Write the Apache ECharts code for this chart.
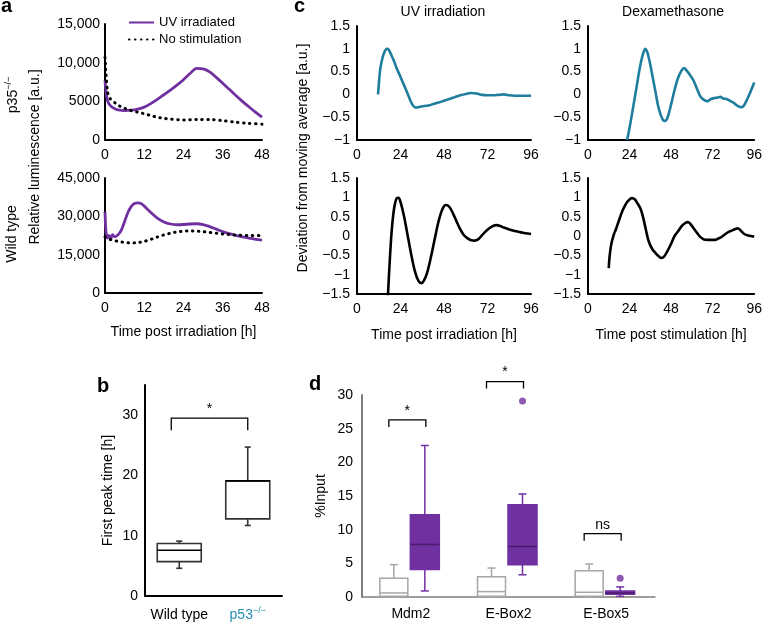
<!DOCTYPE html>
<html>
<head>
<meta charset="utf-8">
<script src="https://cdn.jsdelivr.net/npm/echarts@6/dist/echarts.min.js"></script>
<style>
html, body { margin: 0; padding: 0; background: #fff; }
#main { width: 765px; height: 622px; }
</style>
</head>
<body>
<div id="main"></div>
<script>
// ---- panel a : luminescence traces (time [h], a.u.) ----
var aTopUvT = [0, 0.3, 0.7, 1.2, 2, 3, 4, 6, 8, 10, 12, 14, 16, 18, 20, 22, 24, 26, 28, 30, 32, 34, 36, 38, 40, 42, 44, 46, 48];
var aTopUv = [7700, 6300, 5200, 4700, 4300, 4050, 3900, 3800, 3850, 4000, 4250, 4700, 5250, 5850, 6450, 7100, 7800, 8600, 9250, 9200, 8800, 8100, 7350, 6550, 5750, 5000, 4300, 3600, 2950];
var aTopCtlT = [0, 0.3, 0.8, 1.5, 2.5, 4, 6, 8, 10, 12, 14, 16, 18, 20, 24, 28, 32, 36, 40, 44, 48];
var aTopCtl = [10700, 8600, 6200, 5400, 5000, 4500, 4100, 3800, 3600, 3400, 3150, 2950, 2800, 2700, 2600, 2650, 2650, 2500, 2300, 2150, 2050];
var aBotUvT = [0, 0.3, 0.7, 1.2, 1.7, 2.3, 3, 4, 5, 6, 7, 8, 9, 10, 11, 12, 14, 16, 18, 20, 22, 24, 26, 28, 30, 32, 34, 36, 38, 40, 42, 44, 46, 48];
var aBotUv = [31700, 24000, 21500, 22500, 21000, 22800, 22000, 22800, 24600, 28000, 31500, 33800, 35000, 35300, 35000, 34000, 31500, 29300, 27800, 27000, 26700, 26800, 27000, 27100, 26800, 26000, 25000, 24000, 23200, 22500, 22000, 21500, 21000, 20700];
var aBotCtlT = [0, 1, 2, 4, 6, 8, 10, 12, 14, 16, 18, 20, 22, 24, 26, 28, 30, 32, 34, 36, 38, 40, 44, 48];
var aBotCtl = [22000, 21200, 20800, 20200, 19800, 19600, 19700, 20200, 21000, 21900, 22700, 23400, 23900, 24200, 24300, 24200, 24000, 23700, 23400, 23100, 22900, 22700, 22500, 22500];
var aXTicks = ['0', '12', '24', '36', '48'];
var aTopYTicks = ['0', '5000', '10,000', '15,000'];
var aBotYTicks = ['0', '15,000', '30,000', '45,000'];

// ---- panel c : deviation from moving average ----
var cUvTopT = [11.6, 12.2, 12.8, 13.6, 14.4, 15.5, 16.6, 17.5, 19, 20.5, 22, 23.5, 25, 26.5, 28, 29.5, 31, 32.5, 34, 36, 38, 40, 42, 45, 48, 51, 54, 57, 60, 63, 66, 69, 72, 75, 78, 81, 84, 87, 90, 93, 96];
var cUvTop = [0, 0.3, 0.55, 0.72, 0.85, 0.96, 1.0, 0.98, 0.86, 0.72, 0.56, 0.43, 0.29, 0.15, 0.01, -0.14, -0.25, -0.29, -0.28, -0.26, -0.25, -0.24, -0.21, -0.18, -0.14, -0.1, -0.06, -0.02, 0.01, 0.03, 0.02, -0.01, -0.02, -0.02, -0.01, 0.0, -0.02, -0.03, -0.03, -0.03, -0.03];
var cDexTopT = [22.6, 24, 26, 28, 30, 31.5, 33, 34, 35, 36, 37.5, 39, 40.5, 42, 43.5, 44.5, 46, 48, 50, 52, 54, 55.5, 57, 59, 61, 63, 65, 67, 69, 71, 73, 75, 76.5, 78, 80, 82, 84, 86, 88, 89.5, 91, 93, 94.5, 96];
var cDexTop = [-1, -0.73, -0.3, 0.15, 0.6, 0.85, 1.0, 0.95, 0.82, 0.65, 0.35, 0.05, -0.25, -0.45, -0.57, -0.58, -0.5, -0.22, 0.1, 0.36, 0.52, 0.58, 0.52, 0.42, 0.3, 0.12, -0.05, -0.12, -0.15, -0.1, -0.08, -0.07, -0.05, -0.09, -0.1, -0.14, -0.18, -0.24, -0.28, -0.27, -0.18, -0.02, 0.12, 0.26];
var cUvBotT = [17, 18, 19, 20, 21, 22, 23, 24, 26, 28, 30, 32, 34, 35.5, 37, 39, 41, 43, 45, 47, 49, 51, 53, 55, 57, 59, 61, 63, 65, 67, 69, 71, 73, 75, 77, 79, 81, 84, 87, 90, 93, 96];
var cUvBot = [-1.6, -0.7, 0.05, 0.55, 0.85, 0.98, 0.99, 0.88, 0.5, 0, -0.5, -0.92, -1.17, -1.22, -1.15, -0.9, -0.5, -0.05, 0.38, 0.68, 0.8, 0.75, 0.58, 0.37, 0.17, 0.02, -0.06, -0.11, -0.12, -0.08, 0.02, 0.12, 0.2, 0.26, 0.28, 0.26, 0.22, 0.17, 0.13, 0.1, 0.07, 0.05];
var cDexBotT = [12, 12.4, 13.5, 15, 16.2, 18, 19.8, 21.5, 23, 25.4, 27, 28.5, 30.4, 32, 33.5, 35, 37, 39, 41, 42.4, 44, 46, 48, 50, 52, 54, 56, 57.6, 59, 61, 63, 65, 67, 69, 71, 73.5, 75, 77, 79, 81, 83, 85, 86.5, 88, 90, 92, 94, 96];
var cDexBot = [-0.83, -0.56, -0.2, 0.05, 0.18, 0.42, 0.64, 0.8, 0.9, 0.98, 0.95, 0.85, 0.7, 0.45, 0.15, -0.13, -0.33, -0.44, -0.53, -0.57, -0.53, -0.38, -0.2, 0.0, 0.12, 0.25, 0.33, 0.36, 0.32, 0.2, 0.08, -0.03, -0.09, -0.1, -0.1, -0.1, -0.07, -0.03, 0.04, 0.1, 0.14, 0.18, 0.2, 0.15, 0.06, 0.02, 0.0, -0.02];
var cXTicks = ['0', '24', '48', '72', '96'];
var cTopYTicks = ['\u22121', '\u22120.5', '0', '0.5', '1', '1.5'];
var cBotYTicks = ['\u22121.5', '\u22121', '\u22120.5', '0', '0.5', '1', '1.5'];

// ---- panel b : first peak time, box = [min, q1, median, q3, max] ----
var bCats = ['Wild type', 'p53'];
var bBoxes = [[4.6, 5.7, 7.6, 8.7, 9.1], [11.7, 12.8, 19.1, 19.1, 24.7]];
var bYTicks = ['0', '10', '20', '30'];
var bSig = [[0, 1, 29.5]];
var bSigLabels = ['*'];

// ---- panel d : ChIP %Input ----
var dCats = ['Mdm2', 'E-Box2', 'E-Box5'];
var dControl = [[0, 0.1, 0.6, 2.8, 4.8], [0, 0.1, 0.8, 3.0, 4.3], [0, 0.1, 0.7, 3.9, 4.9]];
var dUv = [[0.9, 4.1, 7.8, 12.2, 22.5], [3.3, 4.8, 7.5, 13.7, 15.3], [0.1, 0.4, 0.6, 0.9, 1.5]];
var dOutliers = [[1, 29.1], [2, 2.8]];
var dYTicks = ['0', '5', '10', '15', '20', '25', '30'];
var dSig = [[0, 0, 26.3], [1, 1, 32], [2, 2, 9.4]];
var dSigLabels = ['*', '*', 'ns'];

var PURPLE = '#7030A0';
var BLUE = '#1f7d9d';
var FF = "'Liberation Sans', Arial, Helvetica, sans-serif";

var myChart = echarts.init(document.getElementById('main'));

function zip(t, v) { return t.map(function (x, i) { return [x, v[i]]; }); }
function boxData(list) { return list.map(function (b, i) { return [i].concat(b); }); }

function valAxis(gi, min, max, step, labels, margin, color, extra) {
  var ax = {
    type: 'value', gridIndex: gi, min: min, max: max, interval: step,
    axisLine: { show: true, onZero: false, lineStyle: { color: color || '#000', width: 2 } },
    axisTick: { show: false }, splitLine: { show: false },
    axisLabel: {
      color: '#000', fontSize: 14, fontFamily: FF, margin: margin,
      formatter: function (v) { return labels[Math.round((v - min) / step)] || ''; }
    }
  };
  return Object.assign(ax, extra || {});
}
function nameOf(text, gap) {
  return { name: text, nameLocation: 'middle', nameGap: gap,
    nameTextStyle: { color: '#000', fontSize: 14, fontFamily: FF } };
}

// box drawn with the axes' own coordinates; dx = px shift inside the band
function boxItem(dx, w, cap, stroke, fill, med, lw) {
  return function (params, api) {
    var c = api.value(0);
    var p = [1, 2, 3, 4, 5].map(function (k) { return api.coord([c, api.value(k)]); });
    var x = p[0][0] + dx;
    var ls = { stroke: stroke, lineWidth: lw };
    return { type: 'group', children: [
      { type: 'line', shape: { x1: x, y1: p[4][1], x2: x, y2: p[3][1] }, style: ls },
      { type: 'line', shape: { x1: x, y1: p[1][1], x2: x, y2: p[0][1] }, style: ls },
      { type: 'line', shape: { x1: x - cap / 2, y1: p[4][1], x2: x + cap / 2, y2: p[4][1] }, style: ls },
      { type: 'line', shape: { x1: x - cap / 2, y1: p[0][1], x2: x + cap / 2, y2: p[0][1] }, style: ls },
      { type: 'rect', shape: { x: x - w / 2, y: p[3][1], width: w, height: p[1][1] - p[3][1] },
        style: { fill: fill, stroke: stroke, lineWidth: lw } },
      { type: 'line', shape: { x1: x - w / 2, y1: p[2][1], x2: x + w / 2, y2: p[2][1] },
        style: { stroke: med, lineWidth: lw } }
    ] };
  };
}
function bracketItem(dx1, dx2, drop, labels) {
  return function (params, api) {
    var a = api.coord([api.value(0), api.value(2)]);
    var b = api.coord([api.value(1), api.value(2)]);
    var x1 = a[0] + dx1, x2 = b[0] + dx2, y = a[1];
    return { type: 'group', children: [
      { type: 'polyline', shape: { points: [[x1, y + drop], [x1, y], [x2, y], [x2, y + drop]] },
        style: { stroke: '#000', lineWidth: 1.3, fill: 'none' } },
      { type: 'text', x: (x1 + x2) / 2, y: y - 2,
        style: { text: labels[params.dataIndex], align: 'center', verticalAlign: 'bottom',
          fontSize: 14, fontFamily: FF, fill: '#000' } }
    ] };
  };
}

function line(name, gi, data, color, width, dotted) {
  return {
    name: name, type: 'line', xAxisIndex: gi, yAxisIndex: gi, data: data,
    symbol: 'none', smooth: 0.3, silent: true,
    lineStyle: dotted ? { color: color, width: 3, type: [0.5, 5.5], cap: 'round' }
                      : { color: color, width: width },
    itemStyle: { color: color }
  };
}

function gtext(x, y, text, size, opts) {
  opts = opts || {};
  return {
    type: 'text', x: x, y: y, rotation: opts.rot || 0, silent: true,
    style: {
      text: text, fontSize: size, fontFamily: FF, fontWeight: opts.bold ? 'bold' : 'normal',
      fill: opts.color || '#000', textAlign: opts.align || 'center', textVerticalAlign: 'middle',
      rich: opts.rich
    }
  };
}
var supRich = {
  n: { fontSize: 14, fontFamily: FF, fill: '#000', lineHeight: 18 },
  s: { fontSize: 9, fontFamily: FF, fill: '#000', verticalAlign: 'top', lineHeight: 18 }
};

var option = {
  animation: false,
  textStyle: { fontFamily: FF },
  legend: {
    data: ['UV irradiated', 'No stimulation'], orient: 'vertical', left: 128, top: 16,
    itemWidth: 25, itemHeight: 14, itemGap: 4, padding: 0,
    itemStyle: { color: 'rgba(0,0,0,0)', borderColor: 'rgba(0,0,0,0)', borderWidth: 0, opacity: 0 },
    textStyle: { color: '#000', fontSize: 13, fontFamily: FF }
  },
  grid: [
    { left: 105, top: 24, width: 157, height: 116 },
    { left: 105, top: 178, width: 157, height: 115 },
    { left: 357, top: 26, width: 174, height: 114 },
    { left: 588, top: 26, width: 170, height: 114 },
    { left: 357, top: 178, width: 174, height: 116 },
    { left: 588, top: 178, width: 170, height: 116 },
    { left: 145, top: 385, width: 137, height: 212 },
    { left: 362, top: 395, width: 293, height: 202 }
  ],
  xAxis: [
    valAxis(0, 0, 48, 12, aXTicks, 8),
    valAxis(1, 0, 48, 12, aXTicks, 8, null, nameOf('Time post irradiation [h]', 32)),
    valAxis(2, 0, 96, 24, cXTicks, 8),
    valAxis(3, 0, 96, 24, cXTicks, 8),
    valAxis(4, 0, 96, 24, cXTicks, 8, null, nameOf('Time post irradiation [h]', 34)),
    valAxis(5, 0, 96, 24, cXTicks, 8, null, nameOf('Time post stimulation [h]', 34)),
    {
      type: 'category', gridIndex: 6, data: bCats,
      axisLine: { lineStyle: { color: '#000', width: 2 } }, axisTick: { show: false },
      axisLabel: {
        margin: 10, interval: 0,
        formatter: function (v) { return v === 'p53' ? '{b|p53}{s|\u2212/\u2212}' : '{k|' + v + '}'; },
        rich: {
          k: { color: '#000', fontSize: 14, fontFamily: FF, lineHeight: 18 },
          b: { color: '#2b8db2', fontSize: 14, fontFamily: FF, lineHeight: 18 },
          s: { color: '#2b8db2', fontSize: 9, fontFamily: FF, verticalAlign: 'top', lineHeight: 18 }
        }
      }
    },
    {
      type: 'category', gridIndex: 7, data: dCats,
      axisLine: { lineStyle: { color: '#7f7f7f', width: 1.5 } }, axisTick: { show: false },
      axisLabel: { color: '#000', fontSize: 14, fontFamily: FF, margin: 10, interval: 0 }
    }
  ],
  yAxis: [
    valAxis(0, 0, 15000, 5000, aTopYTicks, 5),
    valAxis(1, 0, 45000, 15000, aBotYTicks, 5),
    valAxis(2, -1, 1.5, 0.5, cTopYTicks, 7),
    valAxis(3, -1, 1.5, 0.5, cTopYTicks, 7),
    valAxis(4, -1.5, 1.5, 0.5, cBotYTicks, 7),
    valAxis(5, -1.5, 1.5, 0.5, cBotYTicks, 7),
    valAxis(6, 0, 35, 10, bYTicks, 7, null, nameOf('First peak time [h]', 30)),
    valAxis(7, 0, 30, 5, dYTicks, 9, '#7f7f7f', nameOf('%Input', 34))
  ],
  series: [
    line('UV irradiated', 0, zip(aTopUvT, aTopUv), PURPLE, 2.8),
    line('No stimulation', 0, zip(aTopCtlT, aTopCtl), '#000', 3, true),
    line('UV irradiated', 1, zip(aBotUvT, aBotUv), PURPLE, 2.8),
    line('No stimulation', 1, zip(aBotCtlT, aBotCtl), '#000', 3, true),
    line('c1', 2, zip(cUvTopT, cUvTop), BLUE, 2.6),
    line('c2', 3, zip(cDexTopT, cDexTop), BLUE, 2.6),
    line('c3', 4, zip(cUvBotT, cUvBot), '#000', 2.6),
    line('c4', 5, zip(cDexBotT, cDexBot), '#000', 2.6),
    { type: 'custom', xAxisIndex: 6, yAxisIndex: 6, data: boxData(bBoxes), silent: true,
      encode: { x: 0, y: [1, 2, 3, 4, 5] },
      renderItem: boxItem(0, 44, 6, '#333', '#fff', '#000', 1.6) },
    { type: 'custom', xAxisIndex: 6, yAxisIndex: 6, data: bSig, silent: true,
      encode: { x: [0, 1], y: 2 },
      renderItem: bracketItem(-8, 0, 12, bSigLabels) },
    { type: 'custom', xAxisIndex: 7, yAxisIndex: 7, data: boxData(dControl), silent: true,
      encode: { x: 0, y: [1, 2, 3, 4, 5] },
      renderItem: boxItem(-17, 28, 8, '#a6a6a6', '#fff', '#a6a6a6', 1.5) },
    { type: 'custom', xAxisIndex: 7, yAxisIndex: 7, data: boxData(dUv), silent: true,
      encode: { x: 0, y: [1, 2, 3, 4, 5] },
      renderItem: boxItem(14, 29, 8, PURPLE, PURPLE, '#4a1a6e', 1.5) },
    { type: 'scatter', xAxisIndex: 7, yAxisIndex: 7, data: dOutliers, silent: true,
      symbolSize: 7, symbolOffset: [14, 0], itemStyle: { color: PURPLE } },
    { type: 'custom', xAxisIndex: 7, yAxisIndex: 7, data: dSig, silent: true,
      encode: { x: [0, 1], y: 2 },
      renderItem: bracketItem(-22, 15, 7, dSigLabels) }
  ],
  graphic: [
    gtext(1, 6, 'a', 20, { bold: true, align: 'left' }),
    gtext(294, 6, 'c', 20, { bold: true, align: 'left' }),
    gtext(97, 386, 'b', 20, { bold: true, align: 'left' }),
    gtext(309, 384, 'd', 20, { bold: true, align: 'left' }),
    gtext(13, 95, '{n|p35}{s|\u2212/\u2212}', 14, { rot: Math.PI / 2, rich: supRich }),
    gtext(12, 234, 'Wild type', 14, { rot: Math.PI / 2 }),
    gtext(35, 157, 'Relative luminescence [a.u.]', 14, { rot: Math.PI / 2 }),
    gtext(303, 158, 'Deviation from moving average [a.u.]', 14, { rot: Math.PI / 2 }),
    gtext(443, 12, 'UV irradiation', 14),
    gtext(673, 12, 'Dexamethasone', 14)
  ]
};
myChart.setOption(option);
</script>
</body>
</html>
